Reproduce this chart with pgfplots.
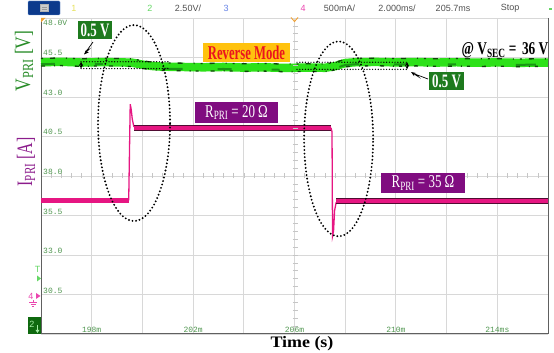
\documentclass[border=0pt]{standalone}
\usepackage{pgfplots}
\pgfplotsset{compat=1.18}
\usepackage{pgfplotstable}
\usepackage{graphicx}
\usetikzlibrary{arrows.meta}
\usepackage{fontspec}
\setmainfont{Liberation Serif}
\newfontfamily\scopesans{Liberation Sans}
\newfontfamily\scopemono{Liberation Mono}

\definecolor{vgreen}{RGB}{45,225,25}
\definecolor{vmid}{RGB}{25,150,20}
\definecolor{vdark}{RGB}{15,70,10}
\definecolor{ipink}{RGB}{230,22,130}
\definecolor{idark}{RGB}{80,12,50}
\definecolor{gridgray}{RGB}{216,216,216}
\definecolor{framegray}{RGB}{96,96,96}
\definecolor{ticktext}{RGB}{80,150,80}
\definecolor{boxgreen}{RGB}{30,122,30}
\definecolor{boxpurple}{RGB}{128,12,128}
\definecolor{boxgold}{RGB}{255,194,14}
\definecolor{labgreen}{RGB}{40,140,40}
\definecolor{labpurple}{RGB}{140,28,140}
\definecolor{modered}{RGB}{235,20,30}
\definecolor{trigorange}{RGB}{240,160,50}
\definecolor{btnblue}{RGB}{12,58,140}
\definecolor{btnedge}{RGB}{110,150,210}
\definecolor{chone}{RGB}{230,225,90}
\definecolor{chtwo}{RGB}{100,215,100}
\definecolor{chthree}{RGB}{100,130,230}
\definecolor{chfour}{RGB}{235,70,175}
\definecolor{readout}{RGB}{80,80,80}
\definecolor{chtwobox}{RGB}{15,105,15}
\definecolor{chtwotext}{RGB}{165,238,165}

% condensed text, as set in the original figure
\newcommand{\cond}[2][0.7]{\scalebox{#1}[1]{#2}}

% primary voltage, channel 2 (V)
\pgfplotstableread{
t v
196.0 45.20
196.8 45.23
197.6 45.18
198.4 45.21
199.2 45.19
199.6 45.17
200.0 45.05
200.4 44.96
200.8 44.92
201.6 44.90
202.4 44.88
203.2 44.90
204.0 44.86
204.8 44.88
205.6 44.84
206.4 44.86
207.2 44.85
207.6 44.95
208.0 45.15
208.4 45.20
209.2 45.22
210.0 45.19
210.8 45.21
211.6 45.18
212.4 45.20
213.2 45.17
214.0 45.19
214.8 45.16
215.6 45.18
216.0 45.17
}\vpri

\begin{document}
\begin{tikzpicture}[x=1pt,y=1pt]
\path[use as bounding box] (0,0) rectangle (554,353);

\begin{axis}[
  at={(41pt,19pt)}, anchor=south west,
  scale only axis, width=507pt, height=316pt,
  xmin=196, xmax=216, ymin=28, ymax=48,
  xtick={196,198,...,216},
  ytick={28,30.5,33,35.5,38,40.5,43,45.5,48},
  xticklabels={}, yticklabels={},
  major tick length=0pt,
  grid=major, grid style={gridgray, line width=0.9pt},
  axis line style={draw=none},
  clip=false,
]
% frame
\draw[gridgray, line width=0.9pt] (rel axis cs:0,1) -- (rel axis cs:1,1);
\draw[framegray, line width=1pt] (rel axis cs:0,1) -- (rel axis cs:0,0) -- (rel axis cs:1,0) -- (rel axis cs:1,1);

% primary voltage trace, with its noise edges
\addplot[vgreen, line width=8.5pt, line join=round] table[x=t,y=v] {\vpri};
\addplot[vmid, line width=2pt, yshift=-2pt, dash pattern=on 14pt off 40pt on 8pt off 60pt on 20pt off 35pt] table[x=t,y=v] {\vpri};
\addplot[vdark, line width=1.3pt, yshift=3.8pt, dash pattern=on 2pt off 7pt on 5pt off 11pt on 1pt off 6pt] table[x=t,y=v] {\vpri};
\addplot[vdark, line width=1.3pt, yshift=-3.8pt, dash pattern=on 4pt off 9pt on 1pt off 5pt on 3pt off 12pt] table[x=t,y=v] {\vpri};

% primary current trace, channel 4
\addplot[idark, line width=5.6pt] coordinates {(196,36.45) (199.46,36.45)};
\addplot[ipink, line width=4.2pt] coordinates {(196,36.45) (199.46,36.45)};
\addplot[ipink, line width=1.3pt] coordinates {(199.46,36.45) (199.52,42.55) (199.56,42.2) (199.60,41.6) (199.66,41.15) (199.72,41.05)};
\addplot[idark, line width=5.6pt] coordinates {(199.66,41.05) (207.44,41.05)};
\addplot[ipink, line width=4.2pt] coordinates {(199.66,41.05) (207.44,41.05)};
\addplot[ipink, line width=1.3pt] coordinates {(207.44,41.05) (207.48,40.8) (207.50,34.2) (207.54,34.5) (207.58,35.8) (207.64,36.3) (207.72,36.4)};
\addplot[idark, line width=5.6pt] coordinates {(207.64,36.4) (216,36.4)};
\addplot[ipink, line width=4.2pt] coordinates {(207.64,36.4) (216,36.4)};

% 0.5 V step markers
\draw[black, line width=1.4pt, dash pattern=on 0pt off 2.8pt, line cap=round] (axis cs:197.58,45.23) -- (axis cs:201.09,45.23);
\draw[black, line width=1.4pt, dash pattern=on 0pt off 2.8pt, line cap=round] (axis cs:197.58,44.80) -- (axis cs:201.09,44.80);
\draw[black, line width=0.8pt, <->, >=stealth] (axis cs:197.58,45.23) -- (axis cs:197.58,44.80);
\draw[black, line width=1.4pt, dash pattern=on 0pt off 2.8pt, line cap=round] (axis cs:206.10,45.20) -- (axis cs:210.44,45.20);
\draw[black, line width=1.4pt, dash pattern=on 0pt off 2.8pt, line cap=round] (axis cs:206.10,44.75) -- (axis cs:210.44,44.75);
\draw[black, line width=0.8pt, <->, >=stealth] (axis cs:210.44,45.20) -- (axis cs:210.44,44.75);

% transient regions
\draw[black, line width=2.1pt, dash pattern=on 0pt off 3.6pt, line cap=round] (axis cs:199.67,41.35) ellipse [x radius=36pt, y radius=98pt];
\draw[black, line width=2.1pt, dash pattern=on 0pt off 3.6pt, line cap=round] (axis cs:207.74,40.35) ellipse [x radius=34.5pt, y radius=97.5pt];
\end{axis}

% centre graticule ticks
\foreach \k in {1,...,39} {
  \draw[gray!45, line width=0.6pt] (292.5,{19+\k*7.9}) -- (297.5,{19+\k*7.9});
}
\foreach \k in {1,...,49} {
  \draw[gray!45, line width=0.6pt] ({41+\k*10.14},174.5) -- ({41+\k*10.14},179.5);
}

% scale readouts
\begin{scope}[every node/.style={inner sep=0pt, text=ticktext, font=\scopemono\fontsize{8}{8}\selectfont}]
\node[anchor=west] at (43,330) {48.0V};
\node[anchor=west] at (43,300.5) {45.5};
\node[anchor=west] at (43,260.5) {43.0};
\node[anchor=west] at (43,221.5) {40.5};
\node[anchor=west] at (43,181.5) {38.0};
\node[anchor=west] at (43,141.5) {35.5};
\node[anchor=west] at (43,102.5) {33.0};
\node[anchor=west] at (43,62.5) {30.5};
\node at (91.7,23.5) {198m};
\node at (193.1,23.5) {202m};
\node at (294.5,23.5) {206m};
\node at (395.9,23.5) {210m};
\node at (497.3,23.5) {214ms};
\end{scope}

% status bar
\draw[rounded corners=1pt, fill=btnblue, draw=btnedge] (28,338) rectangle (60,352);
\draw[gray!60, fill=gray!40] (40,341.5) rectangle (48,348.5);
\draw[gray!80] (41.5,344) -- (46.5,344) (41.5,346) -- (46.5,346);
\begin{scope}[every node/.style={inner sep=0pt, font=\scopesans\fontsize{9}{9}\selectfont}]
\node[text=chone] at (74,345) {1};
\node[text=chtwo] at (150,345) {2};
\node[text=readout] at (188,345) {2.50V/};
\node[text=chthree] at (226,345) {3};
\node[text=chfour] at (303,345) {4};
\node[text=readout] at (339.5,345) {500mA/};
\node[text=readout] at (397,345) {2.000ms/};
\node[text=readout] at (453,345) {205.7ms};
\node[text=readout] at (510,345) {Stop};
\end{scope}
\fill[chtwo] (549,343) rectangle (552,345);

% trigger markers
\fill[trigorange] (41,335) -- (45.5,335) -- (41,330.5) -- cycle;
\draw[trigorange, line width=0.9pt] (291,335.5) -- (294.5,331.5) -- (298,335.5);

% channel markers
\node[inner sep=0pt, text=chtwo, font=\scopesans\fontsize{9}{9}\selectfont] at (37.5,84) {T};
\fill[chtwo] (37,77.5) -- (37,71.5) -- (41,74.5) -- cycle;
\node[inner sep=0pt, text=chfour, font=\scopesans\fontsize{9}{9}\selectfont] at (31,57) {4};
\fill[chfour] (36,60) -- (36,54) -- (40.5,57) -- cycle;
\draw[chfour, line width=0.6pt] (33,53) -- (33,51) (29,51) -- (37,51) (30.5,49) -- (35.5,49) (32,47) -- (34,47);
\fill[chtwobox] (28,19) rectangle (41,36);
\node[inner sep=0pt, text=chtwotext, font=\scopesans\fontsize{9}{9}\selectfont] at (32,29) {2};
\fill[chtwotext] (35.5,23) -- (39.5,23) -- (37.5,20) -- cycle;
\draw[chtwotext, line width=0.6pt] (37.5,23) -- (37.5,28);

% axis titles
\node[rotate=90, text=labgreen, inner sep=0pt, font=\fontsize{22}{22}\selectfont] at (24,292) {\cond[0.8]{V\textsubscript{PRI} [V]}};
\node[rotate=90, text=labpurple, inner sep=0pt, font=\fontsize{22}{22}\selectfont] at (26,191) {\cond[0.72]{I\textsubscript{PRI} [A]}};
\node[inner sep=0pt, font=\bfseries\fontsize{16}{16}\selectfont] at (302,9) {\cond[1.12]{Time (s)}};

% annotations
\node[fill=boxgreen, text=white, inner sep=0pt, minimum width=34pt, minimum height=18pt, font=\bfseries\fontsize{19}{19}\selectfont] at (95,323) {\cond[0.68]{0.5 V}};
\draw[black, line width=0.7pt, -{Stealth[length=5pt]}] (93,311) -- (86.5,302) -- (89,303.5) -- (84,298.5);
\node[fill=boxgold, text=modered, inner sep=0pt, minimum width=87pt, minimum height=19pt, font=\bfseries\fontsize{19.5}{19.5}\selectfont] at (246.5,300.5) {\cond[0.65]{Reverse Mode}};
\node[inner sep=0pt, font=\bfseries\fontsize{18}{18}\selectfont] at (505,302.5) {\cond[0.74]{@ V\textsubscript{SEC} = \,36 V}};
\node[fill=boxgreen, text=white, inner sep=0pt, minimum width=35pt, minimum height=18pt, font=\bfseries\fontsize{19}{19}\selectfont] at (446.5,272) {\cond[0.68]{0.5 V}};
\draw[black, line width=0.7pt, -{Stealth[length=5pt]}] (428,274) -- (416,278.5) -- (418,276.5) -- (411,281);
\node[fill=boxpurple, text=white, inner sep=0pt, minimum width=83pt, minimum height=21pt, font=\fontsize{18}{18}\selectfont] at (236.5,240.5) {\cond[0.72]{R\textsubscript{PRI} = 20 Ω}};
\node[fill=boxpurple, text=white, inner sep=0pt, minimum width=84pt, minimum height=20pt, font=\fontsize{18}{18}\selectfont] at (423,170) {\cond[0.72]{R\textsubscript{PRI} = 35 Ω}};
\end{tikzpicture}
\end{document}
